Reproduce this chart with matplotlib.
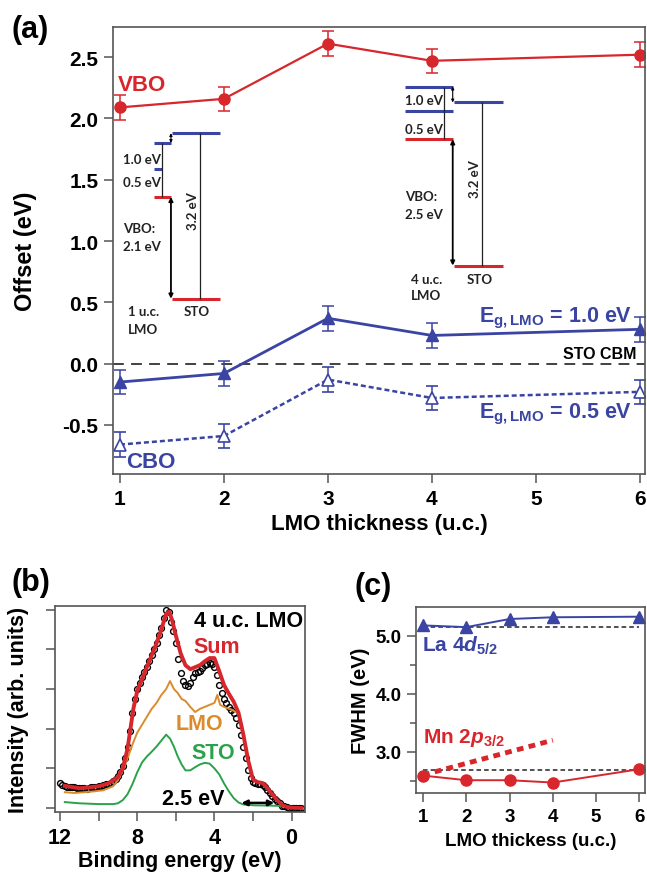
import matplotlib
matplotlib.use('Agg')
import matplotlib.pyplot as plt

# %%
# Data
thickness = [1, 2, 3, 4, 6]
vbo = [2.09, 2.16, 2.61, 2.47, 2.52]
vbo_err = [0.1, 0.1, 0.1, 0.1, 0.1]
cbo_10 = [-0.15, -0.08, 0.37, 0.23, 0.28]
cbo_05 = [-0.66, -0.59, -0.13, -0.28, -0.23]
cbo_err = [0.1, 0.1, 0.1, 0.1, 0.1]

# panel (b) spectra, 4 u.c. LMO
exp_energy = [12.0, 11.875, 11.75, 11.625, 11.5, 11.375, 11.25, 11.125, 11.0, 10.875,
              10.75, 10.625, 10.5, 10.375, 10.25, 10.125, 10.0, 9.875, 9.75, 9.625,
              9.5, 9.375, 9.25, 9.125, 9.0, 8.875, 8.75, 8.625, 8.5, 8.375,
              8.25, 8.125, 8.0, 7.875, 7.75, 7.625, 7.5, 7.375, 7.25, 7.125,
              7.0, 6.875, 6.75, 6.625, 6.5, 6.375, 6.25, 6.125, 6.0, 5.875,
              5.75, 5.625, 5.5, 5.375, 5.25, 5.125, 5.0, 4.875, 4.75, 4.625,
              4.5, 4.375, 4.25, 4.125, 4.0, 3.875, 3.75, 3.625, 3.5, 3.375,
              3.25, 3.125, 3.0, 2.875, 2.75, 2.625, 2.5, 2.375, 2.25, 2.125,
              2.0, 1.875, 1.75, 1.625, 1.5, 1.375, 1.25, 1.125, 1.0, 0.875,
              0.75, 0.625, 0.5, 0.375, 0.25, 0.125, 0.0, -0.125, -0.25, -0.375, -0.5]
exp_intensity = [0.62, 0.58, 0.56, 0.54, 0.52, 0.53, 0.52, 0.5, 0.5, 0.51,
                 0.5, 0.49, 0.5, 0.52, 0.52, 0.54, 0.55, 0.56, 0.58, 0.6,
                 0.6, 0.64, 0.68, 0.72, 0.8, 0.9, 1.05, 1.25, 1.55, 1.95,
                 2.4, 2.75, 3.0, 3.15, 3.3, 3.42, 3.55, 3.7, 3.85, 4.0,
                 4.15, 4.35, 4.55, 4.8, 4.98, 4.95, 4.7, 4.45, 4.15, 3.75,
                 3.4, 3.2, 3.1, 3.08, 3.15, 3.3, 3.4, 3.42, 3.45, 3.52,
                 3.6, 3.62, 3.65, 3.62, 3.55, 3.35, 3.1, 2.9, 2.75, 2.65,
                 2.55, 2.48, 2.4, 2.28, 2.1, 1.85, 1.55, 1.25, 0.95, 0.75,
                 0.65, 0.62, 0.6, 0.6, 0.58, 0.52, 0.45, 0.38, 0.3, 0.24,
                 0.18, 0.12, 0.06, 0.04, 0.02, 0.01, 0.0, 0.0, 0.0, 0.0, 0.0]

sum_energy = [11.75, 11.0, 10.5, 10.0, 9.5, 9.0, 8.75, 8.5, 8.2, 8.0,
              7.75, 7.5, 7.25, 7.0, 6.75, 6.5, 6.35, 6.2, 6.0, 5.75,
              5.5, 5.25, 5.0, 4.75, 4.5, 4.25, 4.0, 3.75, 3.5, 3.25,
              3.0, 2.75, 2.5, 2.25, 2.0, 1.75, 1.5, 1.25, 1.0, 0.75,
              0.5, 0.25, 0.0, -0.5]
sum_intensity = [0.56, 0.5, 0.52, 0.55, 0.62, 0.78, 1.0, 1.5, 2.5, 2.95,
                 3.25, 3.55, 3.85, 4.15, 4.5, 4.9, 4.95, 4.75, 4.35, 3.9,
                 3.6, 3.5, 3.55, 3.6, 3.7, 3.78, 3.78, 3.45, 3.1, 2.88,
                 2.68, 2.4, 1.85, 1.2, 0.72, 0.65, 0.63, 0.5, 0.35, 0.2,
                 0.08, 0.03, 0.01, 0.0]

lmo_energy = [11.75, 11.25, 10.75, 10.25, 9.75, 9.5, 9.25, 9.0, 8.75, 8.5,
              8.25, 8.0, 7.75, 7.5, 7.25, 7.0, 6.75, 6.5, 6.3, 6.1,
              5.9, 5.7, 5.5, 5.25, 5.0, 4.75, 4.5, 4.25, 4.0, 3.85,
              3.7, 3.5, 3.25, 3.0, 2.8]
lmo_intensity = [0.4, 0.38, 0.4, 0.42, 0.45, 0.5, 0.55, 0.7, 0.95, 1.25,
                 1.6, 1.9, 2.1, 2.3, 2.5, 2.65, 2.85, 3.0, 3.2, 3.0,
                 2.9, 2.75, 2.7, 2.55, 2.42, 2.5, 2.55, 2.6, 2.65, 2.85,
                 2.6, 2.55, 2.5, 2.45, 2.4]

sto_energy = [11.75, 11.0, 10.0, 9.25, 9.0, 8.75, 8.5, 8.25, 8.0, 7.75,
              7.5, 7.25, 7.0, 6.75, 6.5, 6.3, 6.1, 5.9, 5.7, 5.5,
              5.25, 5.0, 4.75, 4.5, 4.25, 4.0, 3.75, 3.5, 3.25, 3.0,
              2.75, 2.5, 2.0, 1.0, 0.3]
sto_intensity = [0.15, 0.12, 0.1, 0.1, 0.12, 0.2, 0.35, 0.6, 0.9, 1.15,
                 1.3, 1.42, 1.55, 1.7, 1.85, 1.75, 1.55, 1.3, 1.1, 0.95,
                 0.95, 1.03, 1.1, 1.14, 1.12, 1.0, 0.85, 0.62, 0.42, 0.25,
                 0.14, 0.09, 0.07, 0.06, 0.05]

# panel (c) FWHM
fwhm_la = [5.18, 5.15, 5.29, 5.32, 5.33]
fwhm_mn = [2.59, 2.51, 2.51, 2.47, 2.70]
la_ref = 5.15
mn_ref = 2.68

# %%
RED = '#d7262c'
BLUE = '#3a44a2'
ORANGE = '#da8c2c'
GREEN = '#29a249'
SPINE = '#555555'

plt.rcParams['font.family'] = ['Liberation Sans', 'DejaVu Sans']
plt.rcParams['font.weight'] = 'bold'
plt.rcParams['axes.labelweight'] = 'bold'
plt.rcParams['mathtext.fontset'] = 'custom'
plt.rcParams['mathtext.rm'] = 'Liberation Sans:bold'
plt.rcParams['mathtext.it'] = 'Liberation Sans:italic:bold'
plt.rcParams['mathtext.bf'] = 'Liberation Sans:bold'

fig = plt.figure(figsize=(6.47, 8.78), dpi=100)
ax_a = fig.add_axes([0.1747, 0.459, 0.822, 0.509])
ax_b = fig.add_axes([0.085, 0.074, 0.386, 0.235])
ax_c = fig.add_axes([0.643, 0.0957, 0.354, 0.212])

for ax in (ax_a, ax_b, ax_c):
    for sp in ax.spines.values():
        sp.set_color(SPINE)
        sp.set_linewidth(1.2)
    ax.tick_params(direction='out', color=SPINE, width=1.1, length=6.5, pad=4)

# %%
# (a) band offsets
ax = ax_a
ax.errorbar(thickness, vbo, yerr=vbo_err, color=RED, marker='o', ms=8,
            lw=1.6, capsize=4, elinewidth=1.1, capthick=1.1, ecolor=RED)
ax.errorbar(thickness, cbo_10, yerr=cbo_err, color=BLUE, marker='^', ms=9,
            lw=2.0, capsize=4, elinewidth=1.1, capthick=1.1, ecolor=BLUE)
ax.errorbar(thickness, cbo_05, yerr=cbo_err, color=BLUE, marker='^', ms=9,
            mfc='white', mec=BLUE, mew=1.2, lw=1.8, ls=(0, (2, 1.2)),
            capsize=4, elinewidth=1.1, capthick=1.1, ecolor=BLUE)
ax.axhline(0, color='#333333', lw=1.3, ls=(0, (6, 4)), zorder=0)

ax.set_xlim(0.933, 6.048)
ax.set_ylim(-0.9, 2.745)
ax.set_xticks([1, 2, 3, 4, 5, 6])
ax.set_yticks([-0.5, 0.0, 0.5, 1.0, 1.5, 2.0, 2.5])
ax.set_yticklabels(['-0.5', '0.0', '0.5', '1.0', '1.5', '2.0', '2.5'])
ax.tick_params(labelsize=15)
ax.set_xlabel('LMO thickness (u.c.)', fontsize=16, labelpad=4)
ax.set_ylabel('Offset (eV)', fontsize=17, labelpad=18)

ax.text(0.98, 2.28, 'VBO', color=RED, fontsize=16, va='center')
ax.text(1.06, -0.8, 'CBO', color=BLUE, fontsize=16, va='center')
ax.text(5.93, 0.38, r'E$_\mathrm{g,LMO}$ = 1.0 eV', color=BLUE, fontsize=15.5,
        ha='right', va='center')
ax.text(5.93, -0.41, r'E$_\mathrm{g,LMO}$ = 0.5 eV', color=BLUE, fontsize=15.5,
        ha='right', va='center')
ax.text(5.97, 0.08, 'STO CBM', color='black', fontsize=11.5, ha='right',
        va='center')

# band diagrams drawn inside (a)
SMALL = dict(family=['Lato', 'DejaVu Sans'], fontsize=9.5, weight='bold',
             color='#222222')


def band_diagram(lmo_x, sto_x, lmo_cb10, lmo_cb05, cb05_end, lmo_vb, sto_cb,
                 sto_vb, link_x, gap_x, arrow_x, texts):
    ax.hlines(lmo_cb10, lmo_x[0], lmo_x[1], color=BLUE, lw=2.2)
    ax.hlines(lmo_cb05, lmo_x[0], cb05_end, color=BLUE, lw=2.2)
    ax.hlines(lmo_vb, lmo_x[0], lmo_x[1], color=RED, lw=2.2)
    ax.hlines(sto_cb, sto_x[0], sto_x[1], color=BLUE, lw=2.2)
    ax.hlines(sto_vb, sto_x[0], sto_x[1], color=RED, lw=2.2)
    ax.vlines(link_x, lmo_vb, lmo_cb10, color='#222222', lw=0.9)
    ax.vlines(gap_x, sto_vb, sto_cb, color='#222222', lw=0.9)
    ax.annotate('', xy=(arrow_x, sto_vb), xytext=(arrow_x, lmo_vb),
                arrowprops=dict(arrowstyle='<|-|>', color='black', lw=1.3,
                                mutation_scale=6, shrinkA=0, shrinkB=0))
    ax.annotate('', xy=(arrow_x, sto_cb), xytext=(arrow_x, lmo_cb10),
                arrowprops=dict(arrowstyle='<|-|>', color='black', lw=0.8,
                                mutation_scale=4, shrinkA=0, shrinkB=0))
    ax.text(gap_x - 0.012, (sto_cb + sto_vb) / 2 + 0.05, '3.2 eV',
            rotation=90, ha='right', va='center', **SMALL)
    for (tx, ty, s) in texts:
        ax.text(tx, ty, s, ha='left', va='center', **SMALL)


band_diagram((1.33, 1.49), (1.50, 1.96), 1.80, 1.59, 1.40, 1.36, 1.88, 0.53,
             1.40, 1.77, 1.49,
             [(1.03, 1.67, '1.0 eV'), (1.03, 1.48, '0.5 eV'),
              (1.03, 1.11, 'VBO:'), (1.03, 0.96, '2.1 eV'),
              (1.08, 0.43, '1 u.c.'), (1.08, 0.28, 'LMO'),
              (1.61, 0.43, 'STO')])
band_diagram((3.74, 4.20), (4.21, 4.68), 2.26, 2.06, 4.20, 1.83, 2.13, 0.80,
             4.12, 4.48, 4.20,
             [(3.74, 2.15, '1.0 eV'), (3.74, 1.91, '0.5 eV'),
              (3.74, 1.37, 'VBO:'), (3.74, 1.22, '2.5 eV'),
              (3.80, 0.69, '4 u.c.'), (3.80, 0.56, 'LMO'),
              (4.33, 0.69, 'STO')])

# %%
# (b) valence band spectra
ax = ax_b
ax.plot(exp_energy, exp_intensity, 'o', ms=4.2, mfc='none', mec='black',
        mew=1.0, zorder=2)
ax.plot(sto_energy, sto_intensity, color=GREEN, lw=1.4, zorder=3)
ax.plot(lmo_energy, lmo_intensity, color=ORANGE, lw=1.4, zorder=3)
ax.plot(sum_energy, sum_intensity, color=RED, lw=2.8, zorder=4)
ax.set_xlim(12.26, -0.68)
ax.set_ylim(-0.1, 5.1)
ax.set_xticks([12, 8, 4, 0])
ax.set_xticks([10, 6, 2], minor=True)
ax.tick_params(which='minor', direction='out', color=SPINE, width=1.1, length=6.5)
ax.set_yticks([0, 1, 2, 3, 4, 5])
ax.set_yticklabels([])
ax.tick_params(labelsize=15.5)
ax.set_xlabel('Binding energy (eV)', fontsize=15.5, labelpad=2)
ax.set_ylabel('Intensity (arb. units)', fontsize=15.5, labelpad=8)

ax.text(-0.6, 4.72, '4 u.c. LMO', fontsize=15.5, ha='right', va='center')
ax.text(5.1, 4.07, 'Sum', color=RED, fontsize=15.5, ha='left', va='center')
ax.text(6.0, 2.12, 'LMO', color=ORANGE, fontsize=15.5, ha='left', va='center')
ax.text(5.2, 1.41, 'STO', color=GREEN, fontsize=15.5, ha='left', va='center')
ax.text(5.1, 0.23, '2.5 eV', fontsize=15.5, ha='center', va='center')
ax.annotate('', xy=(0.9, 0.13), xytext=(2.6, 0.13),
            arrowprops=dict(arrowstyle='<|-|>', color='black', lw=1.8,
                            mutation_scale=8, shrinkA=0, shrinkB=0))

# %%
# (c) FWHM vs thickness
ax = ax_c
ax.plot([1, 6], [la_ref, la_ref], color='#222222', lw=1.1, ls=(0, (3, 2)))
ax.plot([1, 6], [mn_ref, mn_ref], color='#222222', lw=1.1, ls=(0, (3, 2)))
ax.plot(thickness, fwhm_la, color=BLUE, marker='^', ms=8, lw=1.4)
ax.plot(thickness, fwhm_mn, color=RED, marker='o', ms=8, lw=1.4)
ax.plot([1, 4], [2.6, 3.2], color=RED, lw=3.5, ls=(0, (1.4, 1.1)))
ax.set_xlim(0.84, 6.13)
ax.set_ylim(2.29, 5.5)
ax.set_xticks([1, 2, 3, 4, 5, 6])
ax.set_yticks([3.0, 4.0, 5.0])
ax.set_yticklabels(['3.0', '4.0', '5.0'])
ax.set_yticks([2.5, 3.5, 4.5], minor=True)
ax.tick_params(which='minor', direction='out', color=SPINE, width=1.1, length=4)
ax.tick_params(labelsize=13.5)
ax.set_xlabel('LMO thickess (u.c.)', fontsize=13.5, labelpad=5)
ax.set_ylabel('FWHM (eV)', fontsize=14.5, labelpad=4)
ax.text(0.98, 4.85, r'La 4$\mathit{d}_\mathrm{5/2}$', color=BLUE, fontsize=15,
        va='center')
ax.text(1.0, 3.25, r'Mn 2$\mathit{p}_\mathrm{3/2}$', color=RED, fontsize=15,
        va='center')

# %%
# panel letters
fig.text(0.018, 0.966, '(a)', fontsize=22, va='center')
fig.text(0.018, 0.336, '(b)', fontsize=22, va='center')
fig.text(0.548, 0.331, '(c)', fontsize=22, va='center')

fig.savefig('out.png', dpi=100)
